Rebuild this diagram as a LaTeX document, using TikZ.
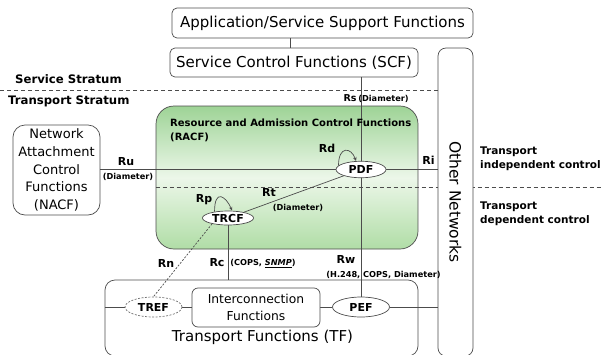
\documentclass[tikz,border=0pt]{standalone}
\usepackage{fontspec}
\setmainfont{DejaVu Sans}
\usetikzlibrary{shapes.geometric,arrows.meta}
\pgfdeclarelayer{bg}
\pgfdeclarelayer{wires}
\pgfsetlayers{bg,wires,main}
\definecolor{edge}{gray}{0.3}
\definecolor{racftop}{RGB}{158,211,150}
\definecolor{racfmid}{RGB}{236,247,233}
\definecolor{racfbot}{RGB}{176,221,166}
\newcommand{\fsz}[1]{\fontsize{#1}{#1}\selectfont}
\tikzset{
  funcbox/.style={draw=edge, line width=0.7pt, rounded corners=#1, inner sep=0pt, align=center},
  funcbox/.default=5pt,
  fn/.style={ellipse, draw=edge, line width=0.7pt, fill=white, inner sep=0pt,
    font=\bfseries\fsz{11}},
  wire/.style={draw=edge, line width=0.7pt},
  fine/.style={dash pattern=on 2pt off 1.5pt},
  sep/.style={draw=black!70, line width=0.7pt, dash pattern=on 4pt off 3pt},
  ref/.style={font=\bfseries\fsz{11}, inner sep=0pt},
  proto/.style={font=\bfseries\fsz{8.2}, inner sep=0pt},
  note/.style={font=\bfseries\fsz{10.5}, inner sep=0pt, anchor=west, align=left},
  selfloop/.style={wire, -{Stealth[length=4pt,width=3.5pt]}},
}
\begin{document}
\begin{tikzpicture}[x=1pt,y=-1pt]
\useasboundingbox (0,0) rectangle (603,354);

% service stratum
\node[funcbox, minimum width=301pt, minimum height=30pt, font=\fsz{15}] (assf) at (322.5,23) {Application/Service Support Functions};
\node[funcbox, minimum width=248pt, minimum height=29pt, font=\fsz{15}] (scf) at (294,62.5) {Service Control Functions (SCF)};

% other networks column
\node[funcbox=8pt, fill=white, rotate=-90, minimum width=308pt, minimum height=35pt, font=\fsz{15.5}] (on) at (455.5,202) {Other Networks};

% transport control
\begin{pgfonlayer}{bg}
\node[funcbox=18pt, minimum width=262pt, minimum height=143pt,
  top color=racftop, bottom color=racfbot, middle color=racfmid] (racf) at (287,177.5) {};
\end{pgfonlayer}
\node[inner sep=0pt, anchor=north west, align=left, font=\bfseries\fsz{10}, text depth=0pt] (racflbl) at (170,119) {Resource and Admission Control Functions\\[4pt](RACF)};

\node[funcbox=12pt, minimum width=87pt, minimum height=90pt, font=\fsz{13}] (nacf) at (56.5,170)
  {Network\\[4.7pt]Attachment\\[4.7pt]Control\\[4.7pt]Functions\\[4.7pt](NACF)};

% transport functions
\node[funcbox=10pt, minimum width=313pt, minimum height=76pt] (tf) at (261.5,318) {};
\node[font=\fsz{15}, inner sep=0pt] (tflbl) at (262.5,337) {Transport Functions (TF)};
\node[funcbox=6pt, fill=white, minimum width=128pt, minimum height=39pt, font=\fsz{12.3}] (icf) at (256,307.5) {Interconnection\\[5pt]Functions};

% functional entities
\node[fn, minimum width=50pt, minimum height=16.5pt] (pdf) at (361,169.5) {PDF};
\node[fn, minimum width=51pt, minimum height=14pt] (trcf) at (228,218) {TRCF};
\node[fn, draw=edge!80, fine, minimum width=57pt, minimum height=20pt] (tref) at (153.5,307) {TREF};
\node[fn, minimum width=57pt, minimum height=20pt] (pef) at (361,307) {PEF};

% reference points and stratum separators
\begin{pgfonlayer}{wires}
\coordinate (stratL) at (0,90);
\coordinate (ctrlR) at (603,187);
\draw[sep] (stratL) -- (stratL -| on.south);
\draw[sep] (racf.west |- ctrlR) -- (ctrlR);

\draw[wire] ([xshift=-4pt]scf.north) -- ([xshift=-4pt]scf.north |- assf.south);
\draw[wire] (scf.south -| pdf) -- (pef.north);
\draw[wire] (nacf.east |- pdf) -- (pdf.west);
\draw[wire] (pdf.east) -- (pdf -| on.south);
\draw[wire] (trcf) -- (pdf);
\draw[wire] (trcf.south) -- (trcf.south |- tf.north);
\draw[wire, fine] (trcf.200) -- (tref.north);
\draw[wire] (tf.west |- tref) -- (tref.west);
\draw[wire] (tref.east) -- (icf.west |- tref);
\draw[wire] (icf.east |- pef) -- (pef.west);
\draw[wire] (pef.east) -- (pef -| on.south);
\draw[selfloop] (pdf.170) .. controls +(0,-20) and +(-5,-14) .. (pdf.120);
\draw[selfloop] (trcf.155) .. controls +(0,-24) and +(-6,-14) .. (trcf.60);
\end{pgfonlayer}

% stratum and control labels
\node[font=\bfseries\fsz{11.7}, inner sep=0pt, anchor=west] (svc) at (15,79) {Service Stratum};
\node[font=\bfseries\fsz{11.7}, inner sep=0pt, anchor=west] (trs) at (8,101.5) {Transport Stratum};
\node[note] (indep) at (480,159) {Transport\\[3pt]independent control};
\node[note] (dep) at (480,214) {Transport\\[4pt]dependent control};

% reference point labels
\node[ref] (lru) at (126,162) {Ru};
\node[proto] (lrup) at (128,177) {(Diameter)};
\node[ref, font=\bfseries\fsz{9.5}] (lrs) at (350,98.5) {Rs};
\node[proto] (lrsp) at (383.5,98.5) {(Diameter)};
\node[ref] (lri) at (428.5,160) {Ri};
\node[ref] (lrd) at (327,148) {Rd};
\node[ref] (lrt) at (269,192.5) {Rt};
\node[proto] (lrtp) at (298,208) {(Diameter)};
\node[ref] (lrp) at (204,200) {Rp};
\node[ref] (lrn) at (166,263) {Rn};
\node[ref] (lrc) at (217,263) {Rc};
\node[proto] (lrcp) at (263,263.5) {(COPS, \underline{\itshape SNMP})};
\node[ref] (lrw) at (346,259) {Rw};
\node[proto] (lrwp) at (383.5,275) {(H.248, COPS, Diameter)};
\end{tikzpicture}
\end{document}
